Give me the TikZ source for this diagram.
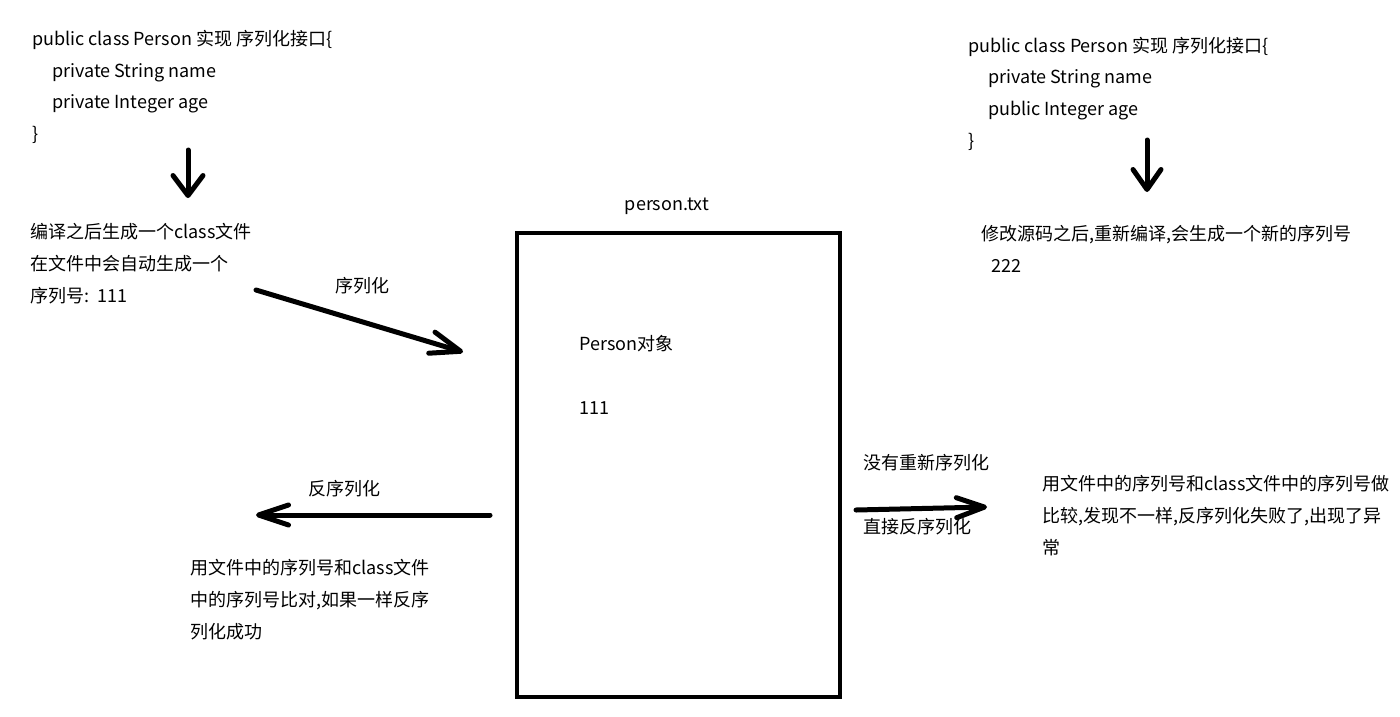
\documentclass[tikz,border=0pt]{standalone}
\usepackage{fontspec}
\setmainfont{Noto Sans CJK SC}
\usetikzlibrary{arrows.meta}
\tikzset{
  txt/.style={anchor=base west, inner sep=0pt, font=\fontsize{18}{22}\selectfont},
  ctxt/.style={anchor=base, inner sep=0pt, font=\fontsize{18}{22}\selectfont},
  hand/.style args={#1/#2}{line width=5pt, line cap=round, line join=round,
    -{Straight Barb[length=#1pt,width=#2pt,round]}},
  filebox/.style={draw, line width=4pt, minimum width=323pt, minimum height=464pt, inner sep=0pt}
}
\begin{document}
\begin{tikzpicture}[x=1pt,y=-1pt]
\useasboundingbox (0,0) rectangle (1400,716);
% left code block
\node[txt] (la) at (32,45) {public class Person 实现 序列化接口\{};
\node[txt] (lb) at (52,77) {private String name};
\node[txt] (lc) at (52,108) {private Integer age};
\node[txt] (ld) at (32,140) {\}};
\coordinate (lda) at (188,150);
\coordinate (ldb) at (188,198);
\draw[hand=20/30] (lda) -- (ldb);
\node[txt] (le) at (30,238) {编译之后生成一个class文件};
\node[txt] (lf) at (30,270) {在文件中会自动生成一个};
\node[txt] (lg) at (30,302) {序列号:\ \ 111};
% serialize arrow
\coordinate (sa) at (256,290);
\coordinate (sb) at (463,352);
\draw[hand=30/22] (sa) -- (sb);
\node[ctxt] (sl) at (362,292) {序列化};
% file box
\node[filebox] (box) at (678.5,465) {};
\node[ctxt] (bt) at (667,210) {person.txt};
\node[txt] (bp) at (579,350) {Person对象};
\node[txt] (bn) at (579,414) {111};
% deserialize arrow (left)
\coordinate (da) at (490,515);
\coordinate (db) at (256,515);
\draw[hand=30/20] (da) -- (db);
\node[ctxt] (dl) at (344,495) {反序列化};
\node[txt] (ba) at (190,574) {用文件中的序列号和class文件};
\node[txt] (bb) at (190,606) {中的序列号比对,如果一样反序};
\node[txt] (bc) at (190,638) {列化成功};
% right code block
\node[txt] (ra) at (968,52) {public class Person 实现 序列化接口\{};
\node[txt] (rb) at (988,83) {private String name};
\node[txt] (rc) at (988,115) {public Integer age};
\node[txt] (rd) at (968,147) {\}};
\coordinate (rda) at (1147,140);
\coordinate (rdb) at (1147,192);
\draw[hand=20/28] (rda) -- (rdb);
\node[txt] (re) at (981,240) {修改源码之后,重新编译,会生成一个新的序列号};
\node[txt] (rf) at (991,272) {222};
% right arrow
\coordinate (xa) at (856,510);
\coordinate (xb) at (987,507);
\draw[hand=28/20] (xa) -- (xb);
\node[txt] (xl1) at (863,469) {没有重新序列化};
\node[txt] (xl2) at (863,533) {直接反序列化};
\node[txt] (xa1) at (1042,490) {用文件中的序列号和class文件中的序列号做};
\node[txt] (xa2) at (1042,522) {比较,发现不一样,反序列化失败了,出现了异};
\node[txt] (xa3) at (1042,554) {常};
\end{tikzpicture}
\end{document}
